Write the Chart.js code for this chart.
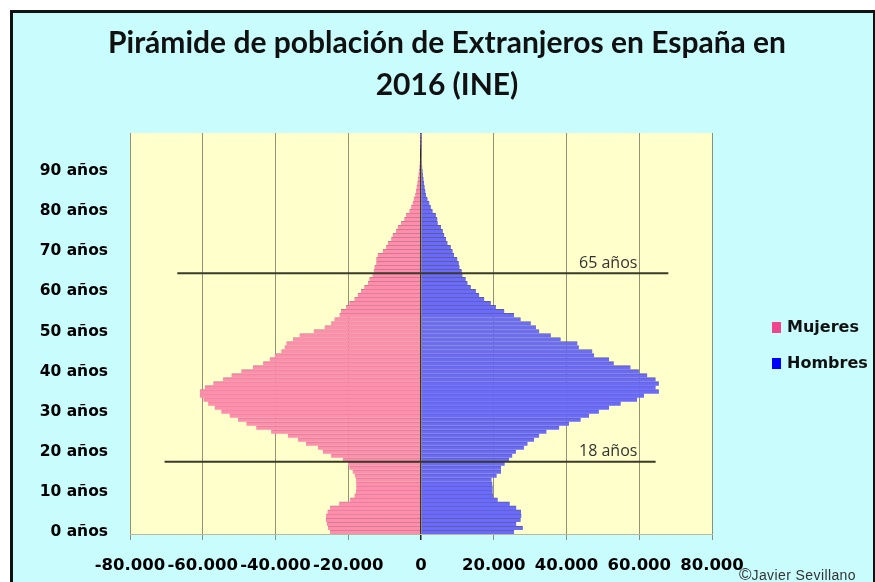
<!DOCTYPE html>
<html>
<head>
<meta charset="utf-8">
<script src="https://cdn.jsdelivr.net/npm/chart.js@4.4.1/dist/chart.umd.min.js"></script>
<style>
body{margin:0;background:#fff;width:875px;height:582px;overflow:hidden;position:relative;font-family:"DejaVu Sans",sans-serif}
#frame{position:absolute;left:10px;top:10px;width:860px;height:580px;background:#c9fcfd;border:3px solid #111;border-bottom:none}
#wrap{position:absolute;left:0;top:0;width:875px;height:582px}
.leg{position:absolute;left:772px;font-weight:bold;font-size:16px;color:#111;line-height:18px}
.leg span{display:inline-block;width:9px;height:11px;margin-right:6px;vertical-align:-1px}
#copy{position:absolute;left:739px;top:565px;font-family:"Liberation Sans",Arial,sans-serif;font-size:14px;color:#333;letter-spacing:0.4px}
#copy b{font-weight:normal;font-size:17px;letter-spacing:0}
</style>
</head>
<body>
<div id="frame"></div>
<div id="wrap"><canvas id="chart" width="875" height="582"></canvas></div>
<div class="leg" style="top:318px"><span style="background:#f2448c"></span>Mujeres</div>
<div class="leg" style="top:354px"><span style="background:#0000ff"></span>Hombres</div>
<div id="copy"><b>©</b>Javier Sevillano</div>
<script>
// edades 0..99, una barra por año
const ages = Array.from({length: 100}, (_, i) => i);

// miles de personas
const mujeres = [
  25.0, 25.6, 25.9, 26.2, 26.1, 25.7, 25.0, 22.5, 19.5, 18.3,
  17.9, 17.8, 17.8, 17.9, 18.2, 18.8, 19.7, 20.1, 21.5, 24.7,
  27.0, 28.3, 31.6, 33.8, 36.6, 41.2, 45.3, 48.0, 50.3, 52.6,
  54.9, 56.7, 58.5, 59.8, 60.8, 60.8, 59.4, 57.1, 54.4, 52.1,
  49.4, 46.2, 43.4, 41.6, 40.2, 38.4, 37.5, 37.0, 35.2, 33.4,
  29.5, 26.5, 24.7, 23.8, 22.4, 22.0, 20.6, 19.7, 18.3, 17.4,
  16.5, 15.6, 14.6, 14.2, 13.3, 13.0, 12.8, 12.3, 12.3, 11.9,
  10.5, 9.6, 9.1, 8.2, 7.8, 6.9, 6.4, 5.5, 4.6, 4.1,
  3.2, 2.7, 2.3, 2.0, 1.6, 1.4, 1.2, 1.0, 0.85, 0.7,
  0.55, 0.45, 0.35, 0.28, 0.22, 0.17, 0.12, 0.09, 0.06, 0.04
];
const hombres = [
  25.6, 28.0, 26.2, 27.4, 27.6, 27.5, 26.2, 24.4, 21.1, 19.8,
  19.7, 19.7, 19.6, 19.4, 20.8, 22.0, 22.0, 23.0, 24.2, 25.1,
  26.1, 28.3, 29.3, 31.1, 32.5, 34.5, 38.0, 40.7, 43.9, 46.2,
  48.9, 51.7, 54.9, 59.4, 61.3, 65.4, 64.5, 65.4, 64.5, 62.2,
  59.9, 57.6, 53.0, 51.7, 47.6, 47.1, 43.4, 43.0, 38.4, 35.7,
  32.5, 31.6, 30.2, 27.4, 25.6, 22.9, 20.6, 19.2, 17.4, 16.0,
  15.1, 13.7, 12.8, 12.3, 11.4, 11.2, 10.6, 10.4, 10.0, 9.1,
  8.7, 8.2, 7.3, 6.9, 6.4, 6.0, 5.5, 4.6, 4.5, 4.1,
  3.2, 2.7, 2.3, 1.8, 1.4, 1.2, 1.0, 0.85, 0.7, 0.55,
  0.45, 0.35, 0.28, 0.22, 0.17, 0.12, 0.09, 0.06, 0.04, 0.03
];

const markAges = [65, 18];
const markLabels = ["65 años", "18 años"];

function miles(v) {
  return String(v).replace(/\B(?=(\d{3})+(?!\d))/g, ".");
}

const plotBg = {
  id: "plotBg",
  beforeDraw(chart) {
    const {ctx, chartArea: a} = chart;
    ctx.save();
    ctx.fillStyle = "#ffffcc";
    ctx.fillRect(a.left, a.top, a.right - a.left, a.bottom - a.top);
    ctx.restore();
  }
};

// lineas horizontales de 18 y 65 años
const ageLines = {
  id: "ageLines",
  afterDraw(chart, args, opts) {
    const {ctx, scales: {x, y}} = chart;
    ctx.save();
    markAges.forEach((age, i) => {
      const py = y.getPixelForValue(age - 0.5);
      ctx.strokeStyle = "#3a3a2a";
      ctx.lineWidth = 2;
      ctx.beginPath();
      ctx.moveTo(x.getPixelForValue(opts.from[i]), py);
      ctx.lineTo(x.getPixelForValue(opts.to[i]), py);
      ctx.stroke();
      ctx.fillStyle = "#333";
      ctx.font = "16px 'Open Sans', sans-serif";
      ctx.textAlign = "right";
      ctx.textBaseline = "bottom";
      ctx.fillText(markLabels[i], x.getPixelForValue(59500), py - 2);
    });
    ctx.restore();
  }
};

new Chart(document.getElementById("chart"), {
  type: "bar",
  data: {
    labels: ages,
    datasets: [
      {label: "Mujeres", data: mujeres.map(v => -v * 1000), backgroundColor: "#ff8dab",
       borderColor: "#c27a8e", borderWidth: {top: 1, bottom: 0, left: 0, right: 0}, borderSkipped: false},
      {label: "Hombres", data: hombres.map(v => v * 1000), backgroundColor: "#6a6aff",
       borderColor: "#5c5c86", borderWidth: {top: 1, bottom: 0, left: 0, right: 0}, borderSkipped: false}
    ]
  },
  options: {
    indexAxis: "y",
    responsive: false,
    animation: false,
    barPercentage: 1,
    categoryPercentage: 1,
    layout: {padding: {left: 30, right: 11, top: 22, bottom: 8}},
    scales: {
      x: {
        stacked: true, min: -80000, max: 80000, z: 1,
        ticks: {stepSize: 20000, color: "#000", padding: 16, maxRotation: 0, minRotation: 0, autoSkip: false,
                callback: v => miles(v),
                font: {family: "'DejaVu Sans', sans-serif", size: 16.5, weight: "bold"}},
        grid: {color: c => c.tick && c.tick.value === 0 ? "#222" : "rgba(110,110,90,0.75)",
               lineWidth: c => c.tick && c.tick.value === 0 ? 1.5 : 1, tickLength: 6},
        border: {display: true, color: "#b8b89a"},
        afterFit(s) { s.height = 40; }
      },
      y: {
        stacked: true, reverse: true,
        grid: {display: false, drawTicks: false},
        border: {display: false},
        ticks: {autoSkip: false, color: "#000", padding: 22,
                font: {family: "'DejaVu Sans', sans-serif", size: 15.5, weight: "bold"},
                callback: (v, i) => i % 10 === 0 ? ages[i] + " años" : ""},
        afterFit(s) { s.width = 100; }
      },
      yR: {
        type: "linear", position: "right", display: true,
        grid: {display: false}, border: {display: false}, ticks: {display: false},
        afterFit(s) { s.width = 152; }
      }
    },
    plugins: {
      legend: {display: false},
      tooltip: {enabled: false},
      title: {
        display: true,
        text: ["Pirámide de población de Extranjeros en España en", "2016 (INE)"],
        color: "#111",
        font: {family: "Lato, sans-serif", size: 30, weight: "bold", lineHeight: 1.4},
        padding: {top: 0, bottom: 27}
      },
      ageLines: {from: [-67000, -70500], to: [68000, 64500]}
    }
  },
  plugins: [plotBg, ageLines]
});
</script>
</body>
</html>
